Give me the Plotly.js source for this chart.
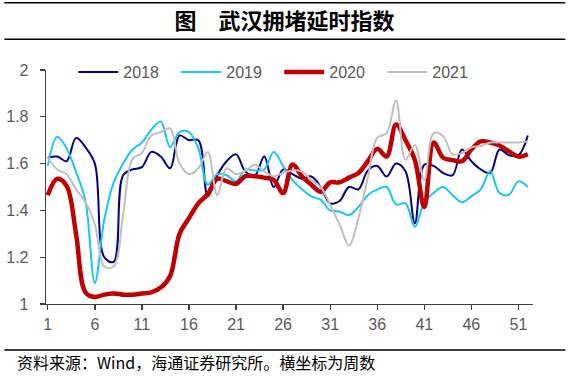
<!DOCTYPE html>
<html>
<head>
<meta charset="utf-8">
<script src="https://cdn.plot.ly/plotly-3.0.1.min.js"></script>
<style>
html,body{margin:0;padding:0;background:#fff;}
#chart{width:569px;height:379px;}
</style>
</head>
<body>
<div id="chart"></div>
<script>
// Week numbers (x axis)
const weeks = Array.from({length: 52}, (_, i) => i + 1);
const tickWeeks = [1, 6, 11, 16, 21, 26, 31, 36, 41, 46, 51];
const yTicks = [1, 1.2, 1.4, 1.6, 1.8, 2];
const yTickText = ['1', '1.2', '1.4', '1.6', '1.8', '2'];

const seriesNames = ['2018', '2019', '2020', '2021'];

const v2018 = [1.625,1.63,1.61,1.71,1.67,1.60,1.20,1.18,1.55,1.575,
               1.585,1.65,1.63,1.58,1.72,1.70,1.70,1.46,1.55,1.61,
               1.64,1.565,1.55,1.63,1.50,1.575,1.555,1.535,1.545,1.50,
               1.43,1.44,1.50,1.49,1.57,1.59,1.545,1.60,1.567,1.345,
               1.595,1.59,1.56,1.55,1.66,1.61,1.575,1.56,1.66,1.635,
               1.635,1.72];
const v2019 = [1.59,1.715,1.665,1.565,1.44,1.09,1.36,1.52,1.60,1.66,
               1.69,1.745,1.78,1.67,1.735,1.735,1.665,1.51,1.555,1.55,
               1.525,1.575,1.57,1.575,1.65,1.59,1.53,1.49,1.46,1.445,
               1.40,1.395,1.38,1.415,1.465,1.49,1.50,1.425,1.43,1.33,
               1.435,1.475,1.50,1.465,1.435,1.46,1.49,1.567,1.474,1.467,
               1.524,1.50];
const v2020 = [1.465,1.535,1.505,1.30,1.05,1.03,1.04,1.045,1.04,1.04,
               1.045,1.05,1.07,1.12,1.30,1.367,1.43,1.47,1.535,1.525,
               1.513,1.546,1.546,1.54,1.53,1.474,1.596,1.546,1.51,1.48,
               1.52,1.52,1.54,1.56,1.61,1.663,1.63,1.767,1.70,1.615,
               1.414,1.69,1.625,1.615,1.61,1.66,1.695,1.69,1.677,1.652,
               1.63,1.64];
const v2021 = [1.625,1.575,1.555,1.49,1.435,1.34,1.16,1.16,1.38,1.62,
               1.645,1.72,1.735,1.75,1.60,1.555,1.58,1.65,1.465,1.58,
               1.555,1.57,1.595,1.567,1.546,1.56,1.571,1.566,1.53,1.50,
               1.424,1.34,1.25,1.367,1.54,1.71,1.73,1.87,1.617,1.68,
               1.53,1.73,1.717,1.64,1.645,1.67,1.675,1.69,1.69,1.69,
               1.69,1.695];

const seriesValues = [v2018, v2019, v2020, v2021];
const seriesColors = ['#000080', '#1AC6F4', '#C00000', '#BFBFBF'];
const seriesWidths = [2, 2, 4.5, 2];

const traces = seriesNames.map((name, i) => ({
  type: 'scatter',
  mode: 'lines',
  name: name,
  x: weeks,
  y: seriesValues[i],
  line: {color: seriesColors[i], width: seriesWidths[i], shape: 'spline', smoothing: 1},
  hoverinfo: 'skip'
}));

const tickFont = {family: 'Liberation Sans, Arial, sans-serif', size: 16, color: '#595959'};
const axisColor = '#404040';

const layout = {
  width: 569,
  height: 379,
  margin: {l: 46, r: 36, t: 70, b: 75, pad: 0},
  paper_bgcolor: '#ffffff',
  plot_bgcolor: '#ffffff',
  title: {
    text: '图　武汉拥堵延时指数',
    xref: 'container', x: 0.5, xanchor: 'center',
    yref: 'container', y: 1 - 21 / 379, yanchor: 'middle',
    font: {family: 'Noto Sans CJK SC, sans-serif', size: 22, color: '#000000', weight: 700}
  },
  xaxis: {
    range: [0.81, 52.55],
    tickmode: 'array',
    tickvals: tickWeeks,
    ticktext: tickWeeks.map(String),
    ticks: 'outside', ticklen: 5, tickwidth: 1.3, tickcolor: axisColor,
    showline: true, linecolor: axisColor, linewidth: 1.3,
    showgrid: false, zeroline: false,
    tickfont: tickFont,
    fixedrange: true
  },
  yaxis: {
    range: [1, 2],
    tickmode: 'array',
    tickvals: yTicks,
    ticktext: yTickText,
    ticks: 'outside', ticklen: 5, tickwidth: 1.3, tickcolor: axisColor,
    ticklabelstandoff: 8,
    showline: true, linecolor: axisColor, linewidth: 1.3,
    showgrid: false, zeroline: false,
    tickfont: tickFont,
    fixedrange: true
  },
  showlegend: true,
  legend: {
    orientation: 'h',
    x: 0.056, xanchor: 'left',
    y: 0.9915, yanchor: 'middle',
    font: {family: 'Liberation Sans, Arial, sans-serif', size: 16, color: '#595959'},
    bgcolor: 'rgba(0,0,0,0)',
    itemwidth: 40,
    entrywidth: 48,
    entrywidthmode: 'pixels',
    traceorder: 'normal'
  },
  shapes: [
    {type: 'line', xref: 'paper', yref: 'paper', x0: -0.0856, x1: 1.0663, y0: 1.2876, y1: 1.2876, line: {color: '#000000', width: 1.5}},
    {type: 'line', xref: 'paper', yref: 'paper', x0: -0.0856, x1: 1.0663, y0: 1.1312, y1: 1.1312, line: {color: '#000000', width: 1.5}},
    {type: 'line', xref: 'paper', yref: 'paper', x0: -0.0856, x1: 1.0663, y0: -0.1966, y1: -0.1966, line: {color: '#000000', width: 1.5}}
  ],
  annotations: [
    {
      text: '资料来源：Wind，海通证券研究所。横坐标为周数',
      xref: 'paper', x: -0.063, xanchor: 'left',
      yref: 'paper', y: -0.2479, yanchor: 'middle',
      showarrow: false,
      font: {family: 'Noto Sans CJK SC, sans-serif', size: 16, color: '#000000'}
    }
  ]
};

Plotly.newPlot('chart', traces, layout, {staticPlot: true, displayModeBar: false});
</script>
</body>
</html>
